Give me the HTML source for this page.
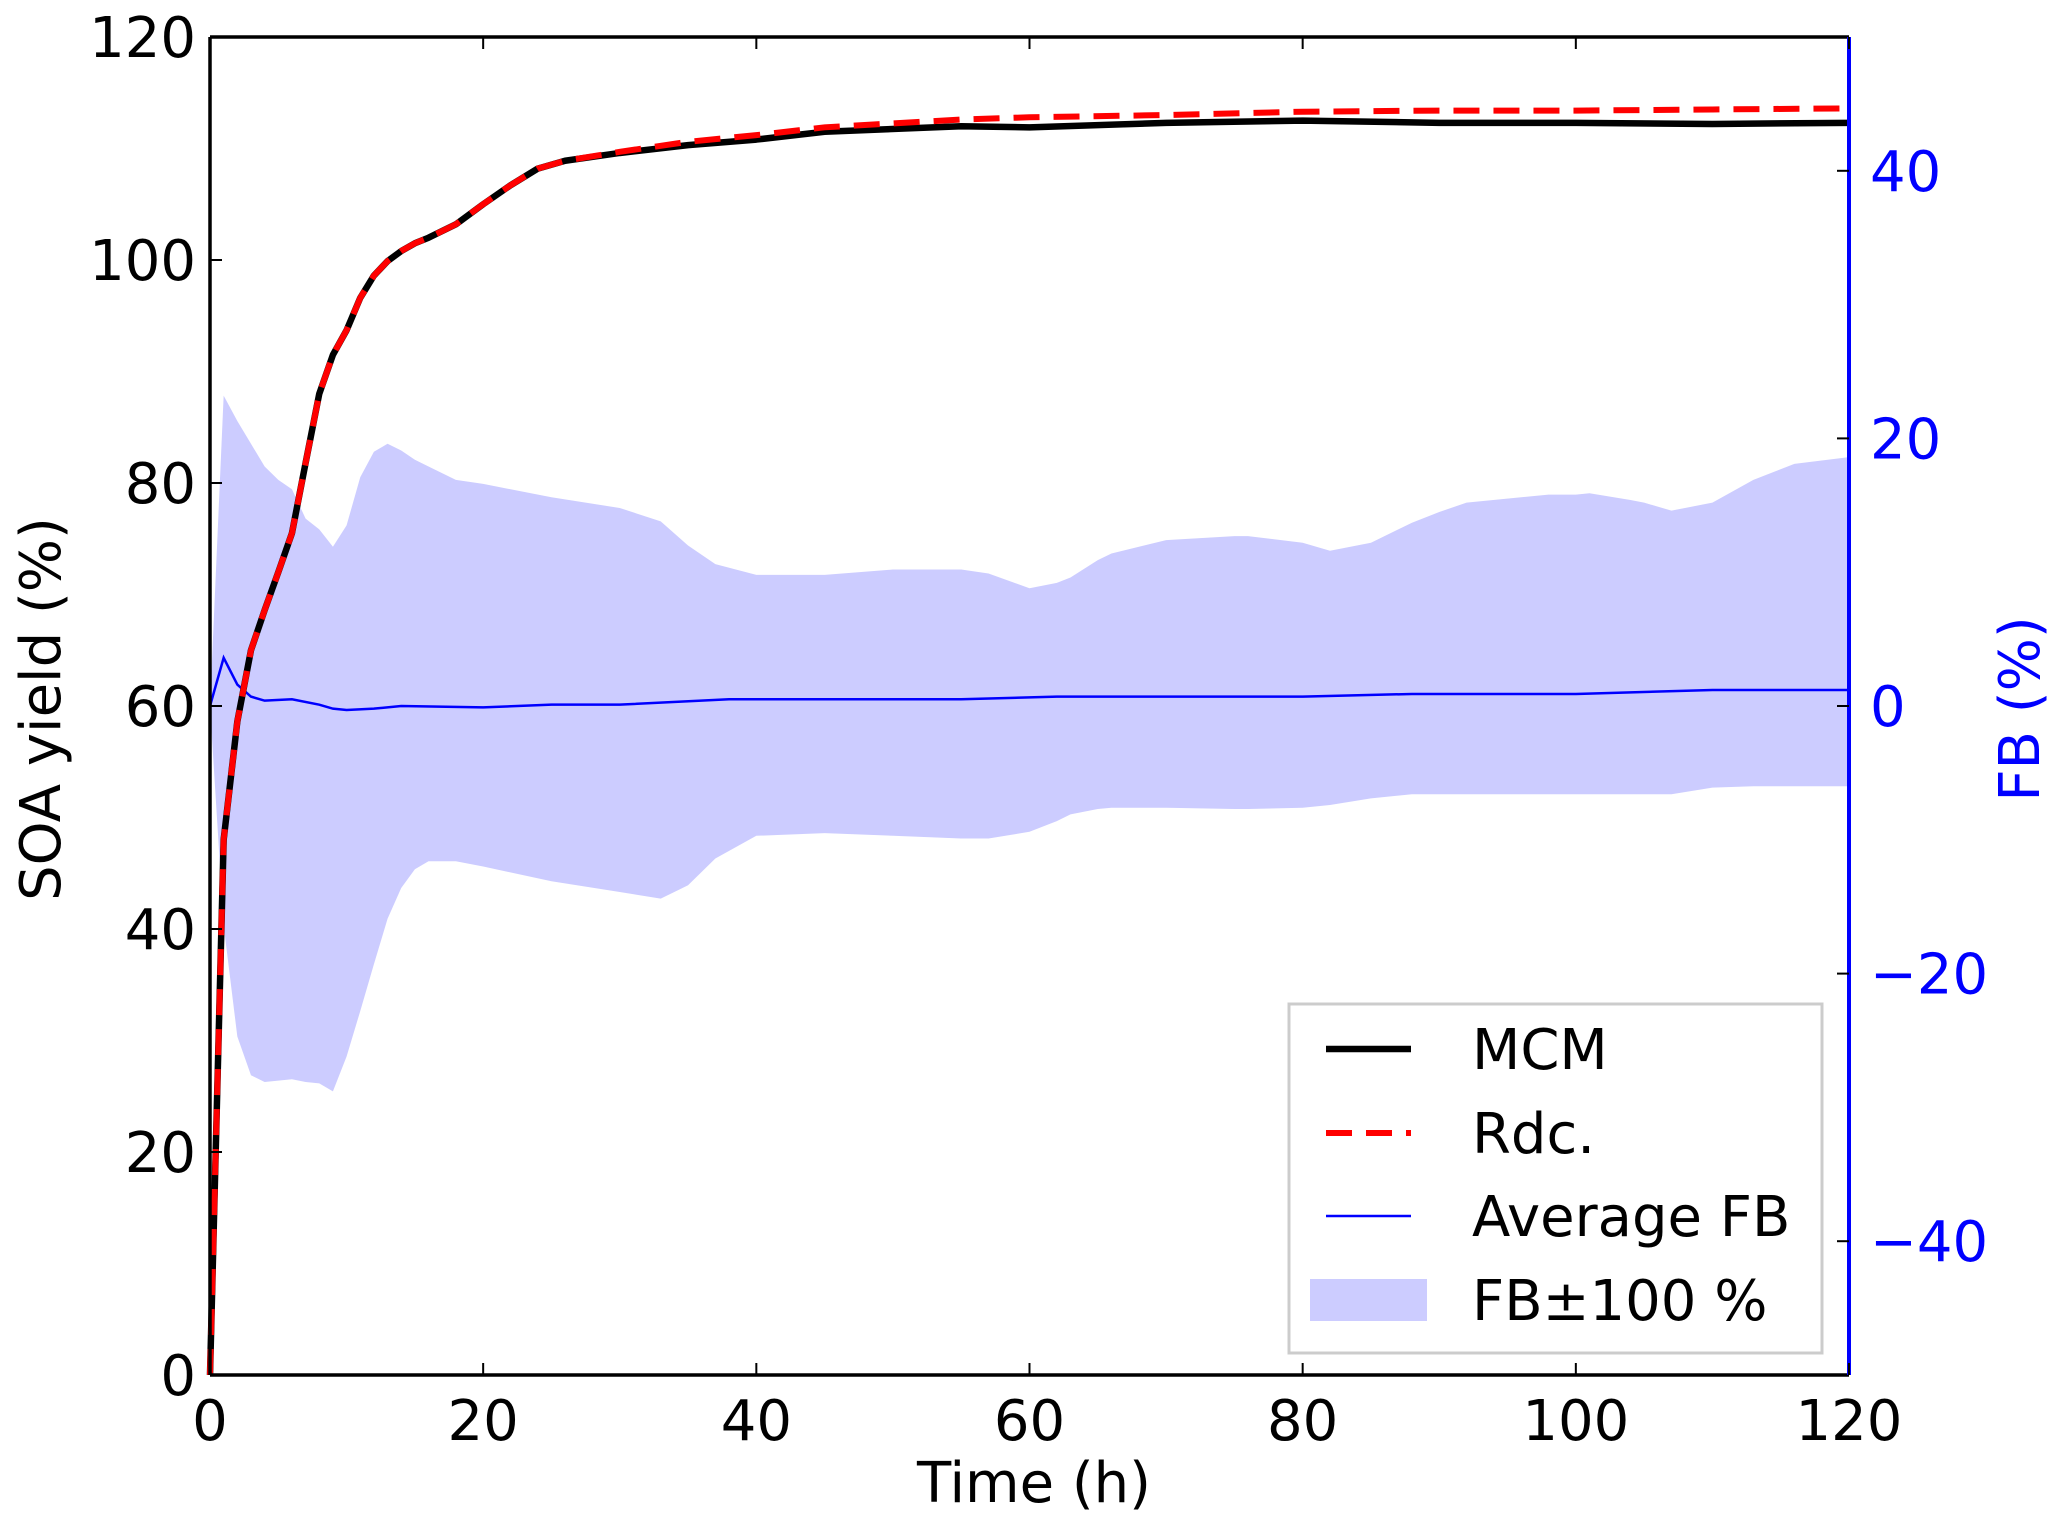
<!DOCTYPE html>
<html><head><meta charset="utf-8"><style>
html,body{margin:0;padding:0;background:#fff;}
svg{display:block;font-family:"DejaVu Sans","Liberation Sans",sans-serif;}
</style></head><body>
<svg id="chart" width="2067" height="1521" viewBox="0 0 2067 1521"></svg>
<script>
const times = [0,1,2,3,4,5,6,7,8,9,10,11,12,13,14,15,16,18,20,22,24,26,30,35,40,45,55,60,70,80,90,100,110,120];
const mcm = [0,48,58.6,65,68.6,72,75.5,81.8,88,91.5,93.7,96.6,98.6,99.9,100.8,101.5,102,103.2,105,106.7,108.2,108.9,109.6,110.3,110.8,111.5,112,111.9,112.3,112.5,112.3,112.3,112.2,112.3];
const rdc = [0,48,58.6,65,68.6,72,75.5,81.8,88,91.5,93.7,96.6,98.6,99.9,100.8,101.5,102,103.2,105,106.7,108.2,108.9,109.7,110.6,111.2,111.9,112.6,112.8,113.0,113.3,113.4,113.4,113.5,113.6];
const fbTimes = [0,1,2,3,4,6,8,9,10,12,14,20,25,30,38,45,55,62,70,80,88,100,110,120];
const fbAvg = [0,3.6,1.6,0.7,0.4,0.5,0.1,-0.2,-0.3,-0.2,0,-0.1,0.1,0.1,0.5,0.5,0.5,0.7,0.7,0.7,0.9,0.9,1.2,1.2];
const bandTimes = [0,1,2,3,4,5,6,7,8,9,10,11,12,13,14,15,16,18,20,25,30,33,35,37,40,45,50,55,57,60,62,63,65,66,70,75,76,80,82,85,88,90,92,98,100,101,104,105,107,110,113,116,120];
const bandUpper = [0,23.2,21.3,19.6,17.9,16.9,16.2,14,13.2,11.9,13.5,17.1,19,19.6,19.1,18.4,17.9,16.9,16.6,15.6,14.8,13.8,12,10.6,9.8,9.8,10.2,10.2,9.9,8.8,9.2,9.6,10.9,11.4,12.4,12.7,12.7,12.2,11.6,12.2,13.7,14.5,15.2,15.8,15.8,15.9,15.4,15.2,14.6,15.2,16.9,18.1,18.6];
const bandLower = [0,-16.4,-24.7,-27.6,-28.1,-28,-27.9,-28.1,-28.2,-28.8,-26.2,-22.8,-19.3,-15.9,-13.6,-12.2,-11.6,-11.6,-12,-13.1,-13.9,-14.4,-13.4,-11.4,-9.7,-9.5,-9.7,-9.9,-9.9,-9.4,-8.6,-8.1,-7.7,-7.6,-7.6,-7.7,-7.7,-7.6,-7.4,-6.9,-6.6,-6.6,-6.6,-6.6,-6.6,-6.6,-6.6,-6.6,-6.6,-6.1,-6.0,-6.0,-6.0];
const xTicks = [0,20,40,60,80,100,120];
const yTicks = [0,20,40,60,80,100,120];
const y2Ticks = [-40,-20,0,20,40];

const L=210,R=1849,T=37,B=1375;
const sx=t=>L+(t/120)*(R-L);
const sy=v=>B-(v/120)*(B-T);
const sy2=v=>B-((v+50)/100)*(B-T);
const NS="http://www.w3.org/2000/svg";
const svg=document.getElementById('chart');
function mk(tag,attrs,parent){const e=document.createElementNS(NS,tag);for(const k in attrs)e.setAttribute(k,attrs[k]);(parent||svg).appendChild(e);return e;}

let d='';
bandTimes.forEach((t,i)=>{d+=(i?'L':'M')+sx(t)+','+sy2(bandUpper[i]);});
for(let i=bandTimes.length-1;i>=0;i--){d+='L'+sx(bandTimes[i])+','+sy2(bandLower[i]);}
const band=mk('path',{d:d+'Z',fill:'#ccccff',stroke:'none'});



function line(ts,vs,f){return ts.map((t,i)=>(i?'L':'M')+sx(t)+','+f(vs[i])).join('');}
const avg=mk('path',{d:line(fbTimes,fbAvg,sy2),fill:'none',stroke:'#0000ff','stroke-width':2.5});


const m=mk('path',{d:line(times,mcm,sy),fill:'none',stroke:'#000','stroke-width':6.5,'stroke-linejoin':'round'});


const r=mk('path',{d:line(times,rdc,sy),fill:'none',stroke:'#ff0000','stroke-width':6,'stroke-dasharray':'26,14'});



mk('line',{x1:L,y1:T,x2:R,y2:T,stroke:'#000','stroke-width':3.5});
mk('line',{x1:L,y1:B,x2:R,y2:B,stroke:'#000','stroke-width':3.5});
mk('line',{x1:L,y1:T,x2:L,y2:B,stroke:'#000','stroke-width':3.5});
mk('line',{x1:R,y1:T,x2:R,y2:B,stroke:'#0000ff','stroke-width':4});

xTicks.forEach(v=>{
  const x=sx(v);
  mk('line',{x1:x,y1:B,x2:x,y2:B-12,stroke:'#000','stroke-width':2});
  mk('line',{x1:x,y1:T,x2:x,y2:T+12,stroke:'#000','stroke-width':2});
  const t=mk('text',{x:x,y:1440,'text-anchor':'middle','font-size':56,fill:'#000'});t.textContent=v;
  
  
});
yTicks.forEach(v=>{
  const y=sy(v);
  mk('line',{x1:L,y1:y,x2:L+12,y2:y,stroke:'#000','stroke-width':2});
  const t=mk('text',{x:196,y:y+20,'text-anchor':'end','font-size':56,fill:'#000'});t.textContent=v;
  
  
});
y2Ticks.forEach(v=>{
  const y=sy2(v);
  mk('line',{x1:R,y1:y,x2:R-12,y2:y,stroke:'#000','stroke-width':2});
  const t=mk('text',{x:1870,y:y+20,'text-anchor':'start','font-size':56,fill:'#0000ff'});t.textContent=(v<0?'\u2212'+(-v):v);
  
  
});
</script>
<svg width="2067" height="1521" style="position:absolute;left:0;top:0;font-family:'DejaVu Sans','Liberation Sans',sans-serif;">
  <text x="1034" y="1502" text-anchor="middle" font-size="56">Time (h)</text>
  <text transform="translate(60,709) rotate(-90)" text-anchor="middle" font-size="56">SOA yield (%)</text>
  <text transform="translate(2039,709) rotate(-90)" text-anchor="middle" font-size="56" fill="#0000ff">FB (%)</text>
  <g>
    <rect x="1289" y="1004" width="533" height="349" fill="#fff" stroke="#cccccc" stroke-width="3"/>
    <line x1="1326" y1="1049" x2="1411" y2="1049" stroke="#000" stroke-width="6.5"/>
    <text x="1472" y="1069" font-size="56">MCM</text>
    <line x1="1326" y1="1133" x2="1411" y2="1133" stroke="#ff0000" stroke-width="6" stroke-dasharray="26,14"/>
    <text x="1472" y="1153" font-size="56">Rdc.</text>
    <line x1="1326" y1="1216" x2="1411" y2="1216" stroke="#0000ff" stroke-width="2.5"/>
    <text x="1472" y="1236" font-size="56">Average FB</text>
    <rect x="1310" y="1279" width="117" height="42" fill="#ccccff"/>
    <text x="1472" y="1320" font-size="56">FB±100 %</text>
  </g>
</svg>
</body></html>
